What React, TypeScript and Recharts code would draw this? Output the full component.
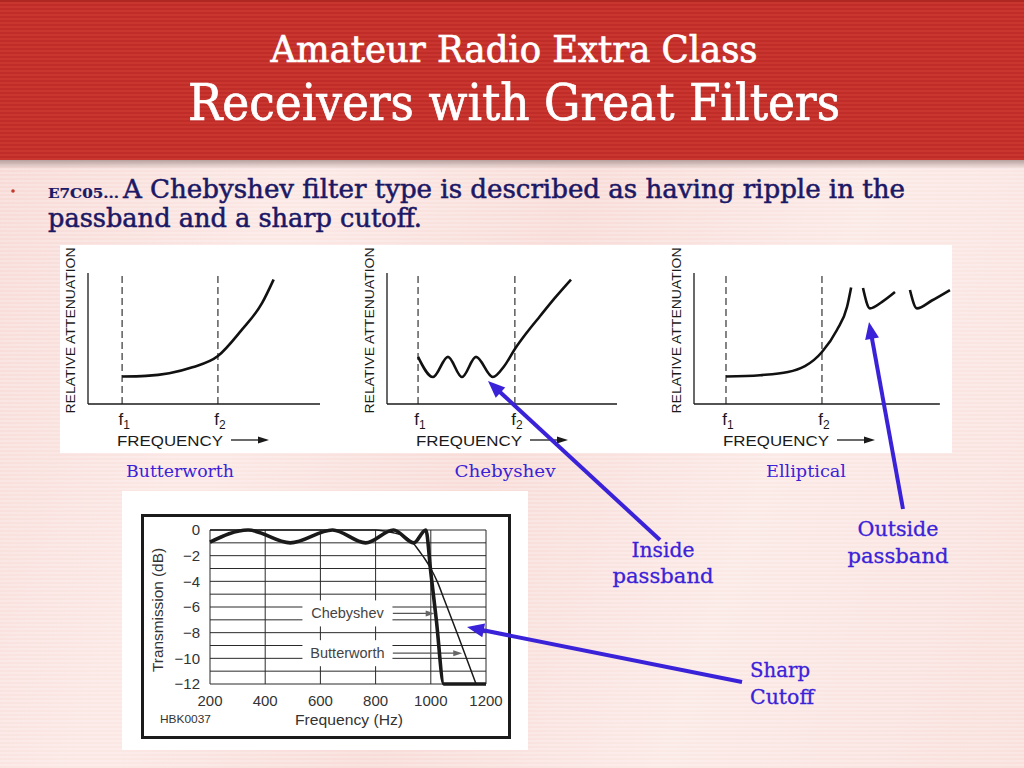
import React from "react";
import { LineChart, Line, XAxis, YAxis, ReferenceLine, ReferenceDot } from "recharts";

// ---- three response sketches: x = % of plot width, y = % of plot height
const butterX = [14.7, 25, 35, 45, 56, 66, 75, 80];
const butterY = [21, 21.5, 23.5, 28, 36.6, 56, 77, 95];

const chebX = [13.5, 20, 26.5, 32.6, 38.7, 46, 51, 55.6, 61, 66.5, 73, 80];
const chebY = [36, 20.6, 36, 20.6, 36, 20.6, 29, 42, 55, 67, 81, 95];

// nulls split the elliptical curve into its three pieces
const ellipX = [12.4, 25.6, 36.4, 49.6, 55.4, 59.3, 60.9, 63, 65.5, 68.2, 72.9, 77.9, 80.8, 83.7, 86.4, 92.2, 99.2];
const ellipY = [21, 22, 24.4, 39.7, 56.5, 74, 89, null, 88.5, 73, 78, 85.5, null, 87, 73, 79, 87];

const fSubs = ["1", "2"];

// ---- measured response (Hz / dB)
const chebHz = [200, 338, 491, 644, 764, 865, 938, 982, 1000, 1020, 1047, 1200];
const chebDb = [-0.95, 0, -1, 0, -1, 0, -1, 0, -3.3, -7, -12, -12];
const bwHz = [200, 800, 860, 900, 935, 960, 980, 1000, 1025, 1050, 1100, 1164];
const bwDb = [0, 0, -0.2, -0.45, -1, -1.7, -2.3, -3, -4.1, -5.5, -8.3, -12];

const hzTicks = [200, 400, 600, 800, 1000, 1200];
const dbTicks = [0, -2, -4, -6, -8, -10, -12];
const gridDb = [0, -1, -2, -3, -4, -5, -6, -7, -8, -9, -10, -11, -12];

const curveTags = [
  { name: "Chebyshev", hz: 698, db: -6.5, tipHz: 1014 },
  { name: "Butterworth", hz: 698, db: -9.6, tipHz: 1114 },
];

const SANS = "'Liberation Sans', Arial, Helvetica, sans-serif";
const SERIF = "'DejaVu Serif', 'Liberation Serif', serif";
const COND = "'DejaVu Serif Condensed', 'DejaVu Serif', serif";
const NAVY = "#1b1866";
const BLUE = "#3a22d8";

const rowsOf = (xs: number[], ys: (number | null)[]) => xs.map((x, i) => ({ x, y: ys[i] }));
const dbRows = (xs: number[], ys: number[]) => xs.map((hz, i) => ({ hz, db: ys[i] }));

type SmallProps = {
  rows: { x: number; y: number | null }[];
  axisX: number;
  plotW: number;
  f1: number;
  f2: number;
  axisEnd: number;
};

function SmallChart({ rows, axisX, plotW, f1, f2, axisEnd }: SmallProps) {
  const fTicks = [f1, f2];
  const tick = (p: any) => {
    const i = fTicks.indexOf(p.payload.value);
    return (
      <text x={p.x + 2} y={p.y + 21} textAnchor="middle" fontFamily={SANS} fontSize={17} fill="#1a1a1a">
        f<tspan fontSize={12} dy={4}>{fSubs[i]}</tspan>
      </text>
    );
  };
  const freqLabel = (p: any) => {
    const vb = p.viewBox;
    const ay = vb.y + 36;
    return (
      <g>
        <text x={vb.x + 29} y={vb.y + 42} fontFamily={SANS} fontSize={14} fill="#1a1a1a" textLength={106} lengthAdjust="spacingAndGlyphs">
          FREQUENCY
        </text>
        <line x1={vb.x + 143} y1={ay} x2={vb.x + 172} y2={ay} stroke="#1a1a1a" strokeWidth={1.3} />
        <polygon points={`${vb.x + 181},${ay} ${vb.x + 170},${ay - 3.5} ${vb.x + 170},${ay + 3.5}`} fill="#1a1a1a" />
      </g>
    );
  };
  const attenLabel = (p: any) => {
    const vb = p.viewBox;
    const cx = vb.x + vb.width - 18;
    const cy = vb.y + vb.height / 2 - 8;
    return (
      <text
        x={cx}
        y={cy}
        transform={`rotate(-90 ${cx} ${cy})`}
        textAnchor="middle"
        dominantBaseline="central"
        fontFamily={SANS}
        fontSize={13}
        fill="#1a1a1a"
        textLength={166}
        lengthAdjust="spacingAndGlyphs"
      >
        RELATIVE ATTENUATION
      </text>
    );
  };
  return (
    <div style={{ position: "absolute", left: axisX - 40, top: 245 }}>
      <LineChart width={plotW + 40 + 14} height={208} data={rows} margin={{ top: 28, right: 14, left: 39, bottom: 4 }}>
        <XAxis
          type="number"
          dataKey="x"
          domain={[0, 100]}
          ticks={fTicks}
          interval={0}
          axisLine={false}
          tickLine={false}
          tickSize={0}
          tickMargin={0}
          height={45}
          tick={tick}
          label={{ content: freqLabel }}
        />
        <YAxis
          type="number"
          domain={[0, 100]}
          width={1}
          tick={false}
          tickLine={false}
          axisLine={{ stroke: "#1a1a1a", strokeWidth: 1.3 }}
          label={{ content: attenLabel }}
        />
        <ReferenceLine x={f1} stroke="#333" strokeWidth={1.2} strokeDasharray="7 4" />
        <ReferenceLine x={f2} stroke="#333" strokeWidth={1.2} strokeDasharray="7 4" />
        <ReferenceLine segment={[{ x: 0, y: 0 }, { x: axisEnd, y: 0 }]} stroke="#1a1a1a" strokeWidth={1.3} />
        <Line type="monotone" dataKey="y" stroke="#111" strokeWidth={2.6} dot={false} isAnimationActive={false} />
      </LineChart>
    </div>
  );
}

function ResponseChart() {
  const hzLabel = (p: any) => {
    const vb = p.viewBox;
    return (
      <g fontFamily={SANS} fill="#333">
        <text x={vb.x + 139} y={vb.y + 41} textAnchor="middle" fontSize={15} textLength={108} lengthAdjust="spacingAndGlyphs">
          Frequency (Hz)
        </text>
        <text x={vb.x - 50} y={vb.y + 39} fontSize={11} textLength={51} lengthAdjust="spacingAndGlyphs">
          HBK0037
        </text>
      </g>
    );
  };
  const dbLabel = (p: any) => {
    const vb = p.viewBox;
    const cx = vb.x - 2;
    const cy = vb.y + vb.height / 2 + 3;
    return (
      <text
        x={cx}
        y={cy}
        transform={`rotate(-90 ${cx} ${cy})`}
        textAnchor="middle"
        dominantBaseline="central"
        fontFamily={SANS}
        fontSize={14}
        fill="#333"
        textLength={124}
        lengthAdjust="spacingAndGlyphs"
      >
        Transmission (dB)
      </text>
    );
  };
  const tagShape = (name: string) => (p: any) => (
    <g>
      <rect x={p.cx - 45} y={p.cy - 13} width={90} height={26} fill="#fff" />
      <text x={p.cx} y={p.cy} textAnchor="middle" dominantBaseline="central" fontFamily={SANS} fontSize={14.5} fill="#444">
        {name}
      </text>
    </g>
  );
  const tipShape = (p: any) => (
    <polygon points={`${p.cx},${p.cy} ${p.cx - 9},${p.cy - 3} ${p.cx - 9},${p.cy + 3}`} fill="#666" />
  );
  const tickStyle = { fontSize: 15, fill: "#333", fontFamily: SANS };
  return (
    <div
      style={{
        position: "absolute",
        left: 141,
        top: 514,
        width: 370,
        height: 225,
        border: "3px solid #1b1b1b",
        boxSizing: "border-box",
        background: "#fff",
      }}
    >
      <LineChart width={364} height={219} margin={{ top: 13, right: 22, left: 16, bottom: 4 }}>
        <XAxis
          type="number"
          dataKey="hz"
          domain={[200, 1200]}
          ticks={hzTicks}
          interval={0}
          axisLine={false}
          tickLine={false}
          tickSize={0}
          tickMargin={11}
          height={48}
          tick={tickStyle}
          label={{ content: hzLabel }}
        />
        <YAxis
          type="number"
          domain={[-12, 0]}
          ticks={dbTicks}
          interval={0}
          axisLine={false}
          tickLine={false}
          tickSize={0}
          tickMargin={10}
          width={50}
          tick={tickStyle}
          tickFormatter={(v: number) => String(v).replace("-", "\u2212")}
          label={{ content: dbLabel }}
        />
        {gridDb.map((d) => (
          <ReferenceLine key={"h" + d} y={d} stroke="#2a2a2a" strokeWidth={1} />
        ))}
        {hzTicks.map((h) => (
          <ReferenceLine key={"v" + h} x={h} stroke="#2a2a2a" strokeWidth={1} />
        ))}
        {curveTags.map((t) => (
          <ReferenceDot key={"t" + t.name} x={t.hz} y={t.db} r={0} shape={tagShape(t.name)} />
        ))}
        {curveTags.map((t) => (
          <ReferenceLine
            key={"a" + t.name}
            segment={[{ x: t.hz + 164, y: t.db }, { x: t.tipHz - 20, y: t.db }]}
            stroke="#555"
            strokeWidth={1.3}
          />
        ))}
        {curveTags.map((t) => (
          <ReferenceDot key={"p" + t.name} x={t.tipHz} y={t.db} r={0} shape={tipShape} />
        ))}
        <Line data={dbRows(chebHz, chebDb)} type="monotone" dataKey="db" stroke="#1a1a1a" strokeWidth={3.6} dot={false} isAnimationActive={false} />
        <Line data={dbRows(bwHz, bwDb)} type="monotone" dataKey="db" stroke="#1a1a1a" strokeWidth={1.5} dot={false} isAnimationActive={false} />
      </LineChart>
    </div>
  );
}

// blue call-out arrows: [fromX, fromY, tipX, tipY] in slide pixels
const callouts = [
  [660, 540, 488, 381],
  [903, 509, 869, 322],
  [742, 682, 467, 627],
];

function Arrow({ a }: { a: number[] }) {
  const [x1, y1, x2, y2] = a;
  const dx = x2 - x1;
  const dy = y2 - y1;
  const len = Math.hypot(dx, dy);
  const ux = dx / len;
  const uy = dy / len;
  const head = 17;
  const half = 7;
  const bx = x2 - ux * head;
  const by = y2 - uy * head;
  return (
    <g>
      <line x1={x1} y1={y1} x2={bx + ux * 3} y2={by + uy * 3} stroke={BLUE} strokeWidth={4} />
      <polygon points={`${x2},${y2} ${bx - uy * half},${by + ux * half} ${bx + uy * half},${by - ux * half}`} fill={BLUE} />
    </g>
  );
}

const filterNames = [
  { text: "Butterworth", x: 180, w: 108 },
  { text: "Chebyshev", x: 505, w: 101 },
  { text: "Elliptical", x: 806, w: 80 },
];

const blueNotes = [
  { text: "Inside", x: 663, y: 557, w: 63, anchor: "middle" },
  { text: "passband", x: 663, y: 583, w: 101, anchor: "middle" },
  { text: "Outside", x: 898, y: 536, w: 81, anchor: "middle" },
  { text: "passband", x: 898, y: 563, w: 101, anchor: "middle" },
  { text: "Sharp", x: 750, y: 677, w: 60, anchor: "start" },
  { text: "Cutoff", x: 750, y: 704, w: 64, anchor: "start" },
];

export default function App() {
  return (
    <div
      style={{
        position: "absolute",
        left: 0,
        top: 0,
        width: 1024,
        height: 768,
        overflow: "hidden",
        background:
          "repeating-linear-gradient(180deg, rgba(255,255,255,0.22) 0 2px, rgba(255,255,255,0) 2px 4px), linear-gradient(110deg, #f7d8d4 0%, #fbe8e5 28%, #f8dcd8 50%, #fbe9e6 72%, #f9e0dc 100%)",
      }}
    >
      {/* header band */}
      <div
        style={{
          position: "absolute",
          left: 0,
          top: 0,
          width: 1024,
          height: 160,
          background: "repeating-linear-gradient(180deg, #c9352f 0 2px, #c02d29 2px 4px)",
          borderTop: "2px solid #b02622",
          boxSizing: "border-box",
        }}
      />
      <div
        style={{
          position: "absolute",
          left: 0,
          top: 160,
          width: 1024,
          height: 9,
          background: "linear-gradient(180deg, #b7a19e, rgba(240,220,216,0))",
        }}
      />

      {/* white backing panels */}
      <div style={{ position: "absolute", left: 60, top: 245, width: 892, height: 208, background: "#fff" }} />
      <div style={{ position: "absolute", left: 122, top: 491, width: 406, height: 259, background: "#fff" }} />

      <SmallChart rows={rowsOf(butterX, butterY)} axisX={88} plotW={232} f1={14.7} f2={56} axisEnd={100} />
      <SmallChart rows={rowsOf(chebX, chebY)} axisX={387} plotW={230} f1={13.5} f2={55.6} axisEnd={100} />
      <SmallChart rows={rowsOf(ellipX, ellipY)} axisX={694} plotW={258} f1={12.4} f2={49.6} axisEnd={95.3} />

      <ResponseChart />

      <svg width={1024} height={768} style={{ position: "absolute", left: 0, top: 0, pointerEvents: "none" }}>
        <g fill="#fff" stroke="#fff" strokeWidth={0.7} fontFamily={COND} fontStretch="condensed" textAnchor="middle">
          <text x={514} y={62} fontSize={38} textLength={487} lengthAdjust="spacingAndGlyphs">
            Amateur Radio Extra Class
          </text>
          <text x={514} y={120} fontSize={50} textLength={652} lengthAdjust="spacingAndGlyphs">
            Receivers with Great Filters
          </text>
        </g>

        <circle cx={13} cy={191} r={1.8} fill="#c0392b" />
        <g fill={NAVY} stroke={NAVY} fontFamily={COND}>
          <text x={48} y={198} fontWeight="bold" fontSize={12.5} strokeWidth={0.2} textLength={71} lengthAdjust="spacingAndGlyphs">
            E7C05...
          </text>
          <text x={123} y={198} fontSize={26} strokeWidth={0.5} textLength={782} lengthAdjust="spacingAndGlyphs">
            A Chebyshev filter type is described as having ripple in the
          </text>
          <text x={48} y={227} fontSize={26} strokeWidth={0.5} textLength={374} lengthAdjust="spacingAndGlyphs">
            passband and a sharp cutoff.
          </text>
        </g>

        {filterNames.map((n) => (
          <text key={n.text} x={n.x} y={477} textAnchor="middle" fontFamily={SERIF} fontSize={16.5} fill={BLUE} textLength={n.w} lengthAdjust="spacingAndGlyphs">
            {n.text}
          </text>
        ))}
        {blueNotes.map((n, i) => (
          <text
            key={"n" + i}
            x={n.x}
            y={n.y}
            textAnchor={n.anchor as any}
            fontFamily={SERIF}
            fontSize={20}
            fill={BLUE}
            stroke={BLUE}
            strokeWidth={0.3}
            textLength={n.w}
            lengthAdjust="spacingAndGlyphs"
          >
            {n.text}
          </text>
        ))}

        {callouts.map((a, i) => (
          <Arrow key={"c" + i} a={a} />
        ))}
      </svg>
    </div>
  );
}
